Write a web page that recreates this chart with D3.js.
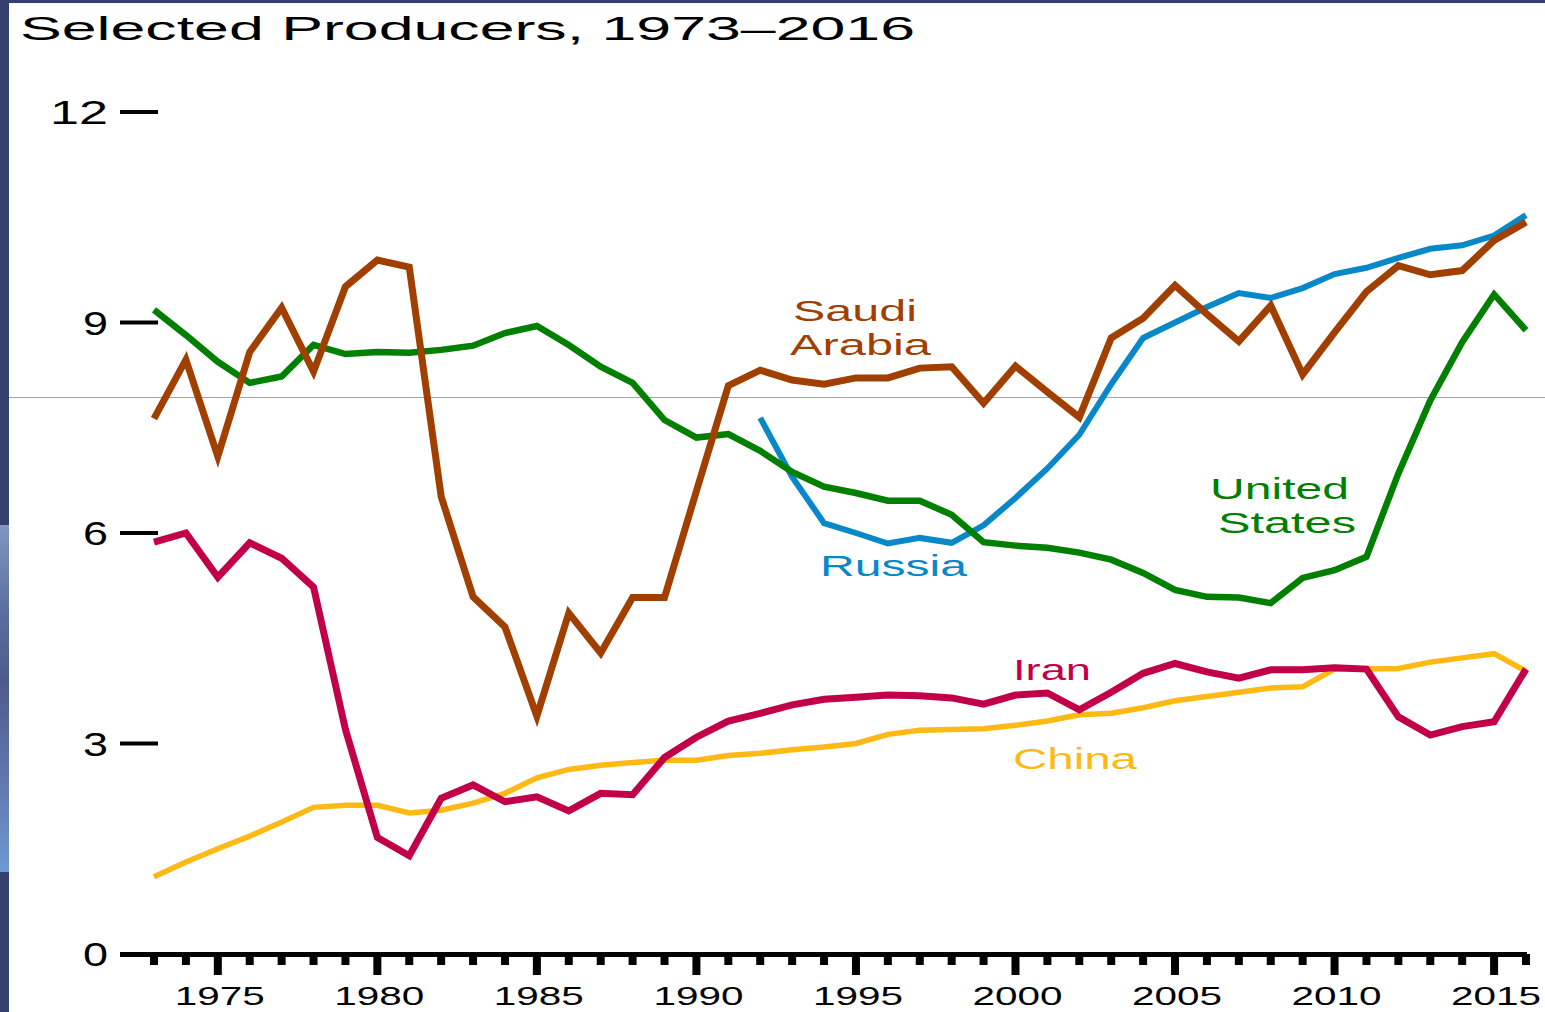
<!DOCTYPE html>
<html>
<head>
<meta charset="utf-8">
<script src="https://cdn.jsdelivr.net/npm/d3@7"></script>
<style>
  html, body { margin: 0; padding: 0; background: #fff; }
  svg { display: block; font-family: "Liberation Sans", Arial, sans-serif; }
</style>
</head>
<body>
<div id="chart"></div>
<script>
// crude oil production, million barrels per day
const years = d3.range(1973, 2017);

const saudi = [7.63, 8.47, 7.09, 8.58, 9.21, 8.30, 9.51, 9.89, 9.79, 6.52, 5.09, 4.66, 3.39, 4.86, 4.29, 5.08, 5.08, 6.60,
  8.10, 8.32, 8.18, 8.12, 8.21, 8.21, 8.35, 8.37, 7.85, 8.38, 8.01, 7.65, 8.78, 9.06, 9.53, 9.12, 8.73, 9.24, 8.26, 8.86,
  9.44, 9.81, 9.68, 9.74, 10.17, 10.43];

const usa = [9.18, 8.82, 8.44, 8.14, 8.23, 8.68, 8.55, 8.58, 8.57, 8.61, 8.67, 8.85, 8.95, 8.68, 8.37, 8.14, 7.61, 7.36,
  7.41, 7.17, 6.87, 6.66, 6.57, 6.46, 6.46, 6.26, 5.87, 5.82, 5.79, 5.72, 5.62, 5.43, 5.19, 5.09, 5.08, 5.00, 5.36, 5.47,
  5.66, 6.85, 7.89, 8.72, 9.40, 8.89];

// Russia only from 1992
const russiaYears = d3.range(1992, 2017);
const russia = [7.64, 6.80, 6.14, 6.00, 5.85, 5.93, 5.86, 6.11, 6.50, 6.92, 7.40, 8.12, 8.78, 9.00, 9.22, 9.42, 9.35, 9.49,
  9.69, 9.78, 9.92, 10.05, 10.10, 10.24, 10.53];

const iran = [5.87, 6.00, 5.37, 5.86, 5.64, 5.23, 3.20, 1.66, 1.40, 2.22, 2.41, 2.17, 2.24, 2.04, 2.29, 2.27, 2.80, 3.09,
  3.32, 3.43, 3.55, 3.63, 3.66, 3.69, 3.68, 3.65, 3.56, 3.69, 3.72, 3.48, 3.73, 4.00, 4.14, 4.02, 3.93, 4.05, 4.05, 4.08,
  4.06, 3.38, 3.12, 3.24, 3.31, 4.06];

const china = [1.10, 1.31, 1.50, 1.68, 1.88, 2.09, 2.12, 2.12, 2.01, 2.05, 2.15, 2.29, 2.51, 2.63, 2.69, 2.73, 2.76, 2.76,
  2.83, 2.86, 2.91, 2.95, 3.00, 3.13, 3.19, 3.20, 3.21, 3.26, 3.32, 3.41, 3.43, 3.51, 3.61, 3.67, 3.73, 3.79, 3.81, 4.06,
  4.06, 4.07, 4.16, 4.22, 4.28, 4.03];

const yTicks = [0, 3, 6, 9, 12];
const xLabels = [1975, 1980, 1985, 1990, 1995, 2000, 2005, 2010, 2015];

const W = 1545, H = 1012;

const svg = d3.select("#chart").append("svg")
  .attr("width", W)
  .attr("height", H);

// frame from the slide behind the chart
const defs = svg.append("defs");
const grad = defs.append("linearGradient")
  .attr("id", "edge")
  .attr("x1", 0).attr("y1", 0).attr("x2", 0).attr("y2", 1);
grad.append("stop").attr("offset", "0%").attr("stop-color", "#8197c2");
grad.append("stop").attr("offset", "25%").attr("stop-color", "#5a6f9f");
grad.append("stop").attr("offset", "45%").attr("stop-color", "#4d5a8a");
grad.append("stop").attr("offset", "75%").attr("stop-color", "#6479b0");
grad.append("stop").attr("offset", "100%").attr("stop-color", "#6b9ad2");

svg.append("rect").attr("x", 0).attr("y", 0).attr("width", W).attr("height", 3).attr("fill", "#343e6f");
svg.append("rect").attr("x", 0).attr("y", 0).attr("width", 9).attr("height", H).attr("fill", "#343e6f");
svg.append("rect").attr("x", 0).attr("y", 525).attr("width", 9).attr("height", 347).attr("fill", "url(#edge)");

// thin grey line across the slide
svg.append("line")
  .attr("x1", 9).attr("x2", W)
  .attr("y1", 397.5).attr("y2", 397.5)
  .attr("stroke", "#9ea3ba")
  .attr("stroke-width", 1);

const x = d3.scaleLinear().domain([1973, 2016]).range([154, 1526]);
const y = d3.scaleLinear().domain([0, 12]).range([954, 112]);

// title
svg.append("text")
  .attr("x", 20).attr("y", 40)
  .attr("font-size", 34)
  .attr("textLength", 895)
  .attr("lengthAdjust", "spacingAndGlyphs")
  .attr("fill", "#000")
  .text("Selected Producers, 1973\u20132016");

// y ticks
const yAxis = svg.append("g");
yTicks.forEach(v => {
  if (v > 0) {
    yAxis.append("rect")
      .attr("x", 120).attr("y", y(v) - 2)
      .attr("width", 38).attr("height", 4)
      .attr("fill", "#000");
  }
  yAxis.append("text")
    .attr("x", 108).attr("y", y(v) + 12)
    .attr("text-anchor", "end")
    .attr("font-size", 33)
    .attr("textLength", v >= 10 ? 58 : 25)
    .attr("lengthAdjust", "spacingAndGlyphs")
    .text(v);
});

// x axis
const xAxis = svg.append("g");
xAxis.append("rect")
  .attr("x", 120).attr("y", 952)
  .attr("width", x(2016) + 1 - 120).attr("height", 5)
  .attr("fill", "#000");
years.forEach(yr => {
  const major = yr % 5 === 0;
  xAxis.append("rect")
    .attr("x", x(yr) - 4).attr("y", 954)
    .attr("width", 8).attr("height", major ? 21 : 11)
    .attr("fill", "#000");
});
xLabels.forEach(yr => {
  xAxis.append("text")
    .attr("x", x(yr) + 2).attr("y", 1005)
    .attr("text-anchor", "middle")
    .attr("font-size", 26)
    .attr("textLength", 90)
    .attr("lengthAdjust", "spacingAndGlyphs")
    .text(yr);
});

const line = d3.line()
  .x(d => x(d[0]))
  .y(d => y(d[1]));

// drawn bottom to top
const series = [
  {name: "China", yrs: years, vals: china, color: "#ffb914", width: 5.5},
  {name: "Russia", yrs: russiaYears, vals: russia, color: "#0888c8", width: 6},
  {name: "Iran", yrs: years, vals: iran, color: "#c20049", width: 7},
  {name: "United States", yrs: years, vals: usa, color: "#007f00", width: 6.5},
  {name: "Saudi Arabia", yrs: years, vals: saudi, color: "#a03f00", width: 7}
];

svg.append("g").selectAll("path")
  .data(series)
  .join("path")
  .attr("d", s => line(s.yrs.map((yr, i) => [yr, s.vals[i]])))
  .attr("fill", "none")
  .attr("stroke", s => s.color)
  .attr("stroke-width", s => s.width)
  .attr("stroke-linejoin", "miter")
  .attr("stroke-linecap", "butt");

// series labels
const labels = [
  {text: "Saudi", x: 793, y: 321, len: 124, color: "#a03f00"},
  {text: "Arabia", x: 790, y: 355, len: 141, color: "#a03f00"},
  {text: "Russia", x: 820, y: 576, len: 147, color: "#0888c8"},
  {text: "United", x: 1210, y: 499, len: 139, color: "#007f00"},
  {text: "States", x: 1218, y: 533, len: 138, color: "#007f00"},
  {text: "Iran", x: 1013, y: 680, len: 78, color: "#c20049"},
  {text: "China", x: 1013, y: 769, len: 124, color: "#ffb914"}
];

svg.append("g").selectAll("text")
  .data(labels)
  .join("text")
  .attr("x", d => d.x)
  .attr("y", d => d.y)
  .attr("font-size", 29)
  .attr("textLength", d => d.len)
  .attr("lengthAdjust", "spacingAndGlyphs")
  .attr("fill", d => d.color)
  .text(d => d.text);
</script>
</body>
</html>
